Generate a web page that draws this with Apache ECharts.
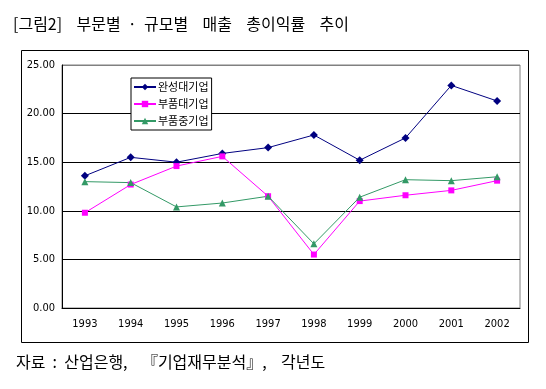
<!DOCTYPE html>
<html><head><meta charset="utf-8">
<script src="https://cdn.jsdelivr.net/npm/echarts@6/dist/echarts.min.js"></script>
<style>html,body{margin:0;padding:0;background:#fff;}#c{width:546px;height:389px;}</style>
</head><body><div id="c"></div>
<script>
const years = ['1993','1994','1995','1996','1997','1998','1999','2000','2001','2002'];
const seriesNames = ['완성대기업','부품대기업','부품중기업'];
const complete = [13.6,15.5,15.0,15.9,16.5,17.8,15.2,17.5,22.9,21.3];
const partsLarge = [9.8,12.7,14.6,15.6,11.5,5.5,11.0,11.6,12.1,13.1];
const partsSmall = [13.0,12.9,10.4,10.8,11.5,6.6,11.4,13.2,13.1,13.5];
const yTicks = [0,5,10,15,20,25];
const titleText = '[그림2]    부문별  ·  규모별    매출    총이익률    추이';
const sourceText = '자료  :  산업은행,    『기업재무분석』,    각년도';

const axisFont = '"Liberation Sans Narrow","DejaVu Sans Condensed","Liberation Sans",sans-serif';
const krFont = '"Noto Sans CJK KR",sans-serif';
const chart = echarts.init(document.getElementById('c'), null, {renderer:'canvas'});
const mk = (name, data, color, symbol, size) => ({
  name, type:'line', data, symbol, symbolSize:size,
  lineStyle:{color, width:1}, itemStyle:{color}, animation:false
});
chart.setOption({
  animation:false,
  title:[
    {text:titleText, left:13, top:16, padding:0, textStyle:{fontFamily:krFont, fontSize:16, fontWeight:'normal', color:'#000'}},
    {text:sourceText, left:16, top:354, padding:0, textStyle:{fontFamily:krFont, fontSize:16, fontWeight:'normal', color:'#000'}}
  ],
  graphic:[{type:'rect', shape:{x:21.5,y:50.5,width:507,height:292}, style:{fill:'none', stroke:'#000', lineWidth:1}, z:-1}],
  grid:{left:62, top:65, right:26, bottom:81, show:true, borderColor:'#808080', borderWidth:1},
  legend:{
    orient:'vertical', left:131, top:78, padding:[2,3,2,2], itemGap:3,
    backgroundColor:'#fff', borderColor:'#000', borderWidth:1,
    itemWidth:22, itemHeight:8,
    textStyle:{fontFamily:krFont, fontSize:11, lineHeight:14, color:'#000', padding:[0,0,0,-3]},
    data:seriesNames
  },
  xAxis:{
    type:'category', data:years, boundaryGap:true,
    axisLine:{lineStyle:{color:'#000', width:1}},
    axisTick:{inside:true, length:3, lineStyle:{color:'#000'}},
    axisLabel:{fontFamily:axisFont, fontSize:11, color:'#000', margin:11}
  },
  yAxis:{
    type:'value', min:yTicks[0], max:yTicks[yTicks.length-1], interval:5,
    axisLine:{show:true, lineStyle:{color:'#000', width:1}},
    axisTick:{show:false},
    axisLabel:{fontFamily:axisFont, fontSize:11, color:'#000', margin:7, formatter:v=>v.toFixed(2)},
    splitLine:{lineStyle:{color:['#000','#000','#000','#000','#000','#808080'], width:1}}
  },
  series:[
    mk(seriesNames[0], complete, '#000080', 'diamond', 8),
    mk(seriesNames[1], partsLarge, '#FF00FF', 'rect', 6),
    mk(seriesNames[2], partsSmall, '#339966', 'triangle', 7)
  ]
});
</script></body></html>
